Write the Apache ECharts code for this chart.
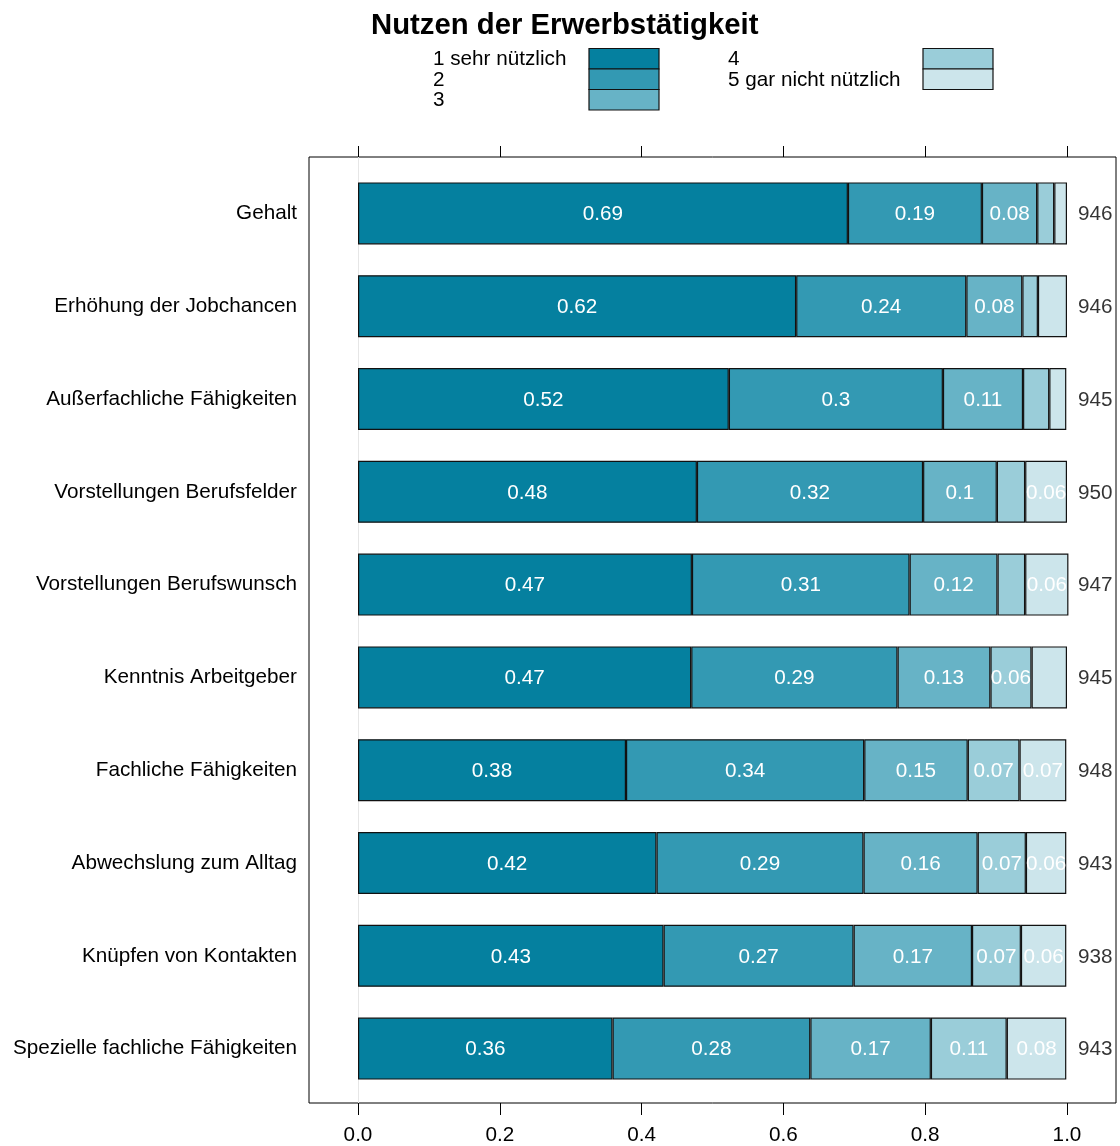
<!DOCTYPE html>
<html>
<head>
<meta charset="utf-8">
<script src="https://cdn.jsdelivr.net/npm/echarts@6/dist/echarts.min.js"></script>
<style>html,body{margin:0;padding:0;background:#fff;}#chart{width:1120px;height:1146px;}</style>
</head>
<body>
<div id="chart"></div>
<script>
const categories = [
  "Gehalt",
  "Erhöhung der Jobchancen",
  "Außerfachliche Fähigkeiten",
  "Vorstellungen Berufsfelder",
  "Vorstellungen Berufswunsch",
  "Kenntnis Arbeitgeber",
  "Fachliche Fähigkeiten",
  "Abwechslung zum Alltag",
  "Knüpfen von Kontakten",
  "Spezielle fachliche Fähigkeiten"
];
const seriesNames = ["1 sehr nützlich", "2", "3", "4", "5 gar nicht nützlich"];
const colors = ["#05809f", "#3399b3", "#67b3c6", "#9acdd9", "#cce5eb"];
const level1 = [0.691, 0.618, 0.523, 0.478, 0.471, 0.470, 0.378, 0.421, 0.431, 0.359];
const level2 = [0.189, 0.240, 0.302, 0.319, 0.307, 0.291, 0.336, 0.292, 0.268, 0.279];
const level3 = [0.078, 0.079, 0.113, 0.104, 0.124, 0.131, 0.146, 0.161, 0.167, 0.170];
const level4 = [0.024, 0.022, 0.037, 0.040, 0.039, 0.058, 0.073, 0.068, 0.069, 0.107];
const level5 = [0.018, 0.041, 0.024, 0.059, 0.061, 0.050, 0.066, 0.057, 0.064, 0.084];
const counts = [946, 946, 945, 950, 947, 945, 948, 943, 938, 943];
const tickValues = [0, 0.2, 0.4, 0.6, 0.8, 1.0];
const labelThreshold = 0.055;

const levels = [level1, level2, level3, level4, level5];
const FONT = "'Liberation Sans', Arial, Helvetica, sans-serif";
const FS = 20.7;

const xMin = (309 - 358) / 709;
const xMax = (1116 - 358) / 709;

const chart = echarts.init(document.getElementById('chart'), null, {renderer: 'canvas'});

const barSeries = levels.map((vals, k) => ({
  name: seriesNames[k],
  type: 'bar',
  xAxisIndex: 2,
  yAxisIndex: 1,
  stack: 'total',
  barWidth: 62,
  data: vals,
  itemStyle: {color: colors[k], borderColor: '#111', borderWidth: 1.2},
  label: {
    show: true,
    position: 'inside',
    offset: [0, 1],
    color: '#fff',
    fontFamily: FONT,
    fontSize: FS,
    formatter: p => (p.value >= labelThreshold ? String(Number(p.value.toFixed(2))) : '')
  },
  emphasis: {disabled: true}
}));

const countSeries = {
  type: 'scatter',
  xAxisIndex: 2,
  yAxisIndex: 1,
  symbolSize: 1,
  itemStyle: {color: 'transparent'},
  data: counts.map((c, i) => [1, i]),
  label: {
    show: true,
    position: 'right',
    distance: 10.5,
    offset: [0, 1],
    color: '#000',
    fontFamily: FONT,
    fontSize: FS,
    formatter: p => String(counts[p.dataIndex])
  },
  emphasis: {disabled: true}
};

// legend built from names/colours
const legendCols = [
  {textX: 433, boxX: 589, items: [0, 1, 2]},
  {textX: 728, boxX: 923, items: [3, 4]}
];
const legendTop = 48.5, rowH = 20.5, boxW = 70;
const legendGraphics = [];
legendCols.forEach(col => {
  col.items.forEach((idx, r) => {
    legendGraphics.push({
      type: 'rect',
      shape: {x: col.boxX, y: legendTop + r * rowH, width: boxW, height: rowH},
      style: {fill: colors[idx], stroke: '#111', lineWidth: 1.2}
    });
    legendGraphics.push({
      type: 'text',
      x: col.textX,
      y: legendTop + r * rowH + rowH / 2 + 1,
      style: {text: seriesNames[idx], font: FS + 'px ' + FONT, fill: '#000', verticalAlign: 'middle', align: 'left'}
    });
  });
});

const option = {
  animation: false,
  backgroundColor: '#fff',
  title: {
    text: 'Nutzen der Erwerbstätigkeit',
    left: 371,
    top: 11,
    padding: 0,
    textStyle: {fontFamily: FONT, fontSize: 29.3, fontWeight: 'bold', color: '#000'}
  },
  graphic: legendGraphics,
  grid: [
    {left: 309, top: 157, width: 807, height: 947, show: true, borderColor: '#000', borderWidth: 1, backgroundColor: 'transparent'},
    {left: 309, top: 167, width: 807, height: 928}
  ],
  xAxis: [
    {
      gridIndex: 0, type: 'value', position: 'bottom', min: xMin, max: xMax,
      axisLine: {show: false},
      splitLine: {show: false},
      axisTick: {show: true, length: 12, customValues: tickValues, lineStyle: {color: '#000', width: 1}},
      axisLabel: {show: true, customValues: tickValues, margin: 22, color: '#000', fontFamily: FONT, fontSize: FS,
        formatter: v => v.toFixed(1)}
    },
    {
      gridIndex: 0, type: 'value', position: 'top', min: xMin, max: xMax,
      axisLine: {show: false},
      splitLine: {show: false},
      axisTick: {show: true, length: 11, customValues: tickValues, lineStyle: {color: '#000', width: 1}},
      axisLabel: {show: false}
    },
    {
      gridIndex: 1, type: 'value', min: xMin, max: xMax, show: false
    }
  ],
  yAxis: [
    {
      gridIndex: 0, type: 'value', min: 0, max: 1,
      axisLine: {show: true, onZero: true, onZeroAxisIndex: 0, lineStyle: {color: '#e6e6e6', width: 1}},
      axisTick: {show: false}, axisLabel: {show: false}, splitLine: {show: false}
    },
    {
      gridIndex: 1, type: 'category', inverse: true, data: categories,
      axisLine: {show: false}, axisTick: {show: false}, splitLine: {show: false},
      axisLabel: {show: true, margin: 12, padding: [2, 0, 0, 0], color: '#000', fontFamily: FONT, fontSize: FS}
    }
  ],
  series: barSeries.concat([countSeries])
};
chart.setOption(option);
</script>
</body>
</html>
